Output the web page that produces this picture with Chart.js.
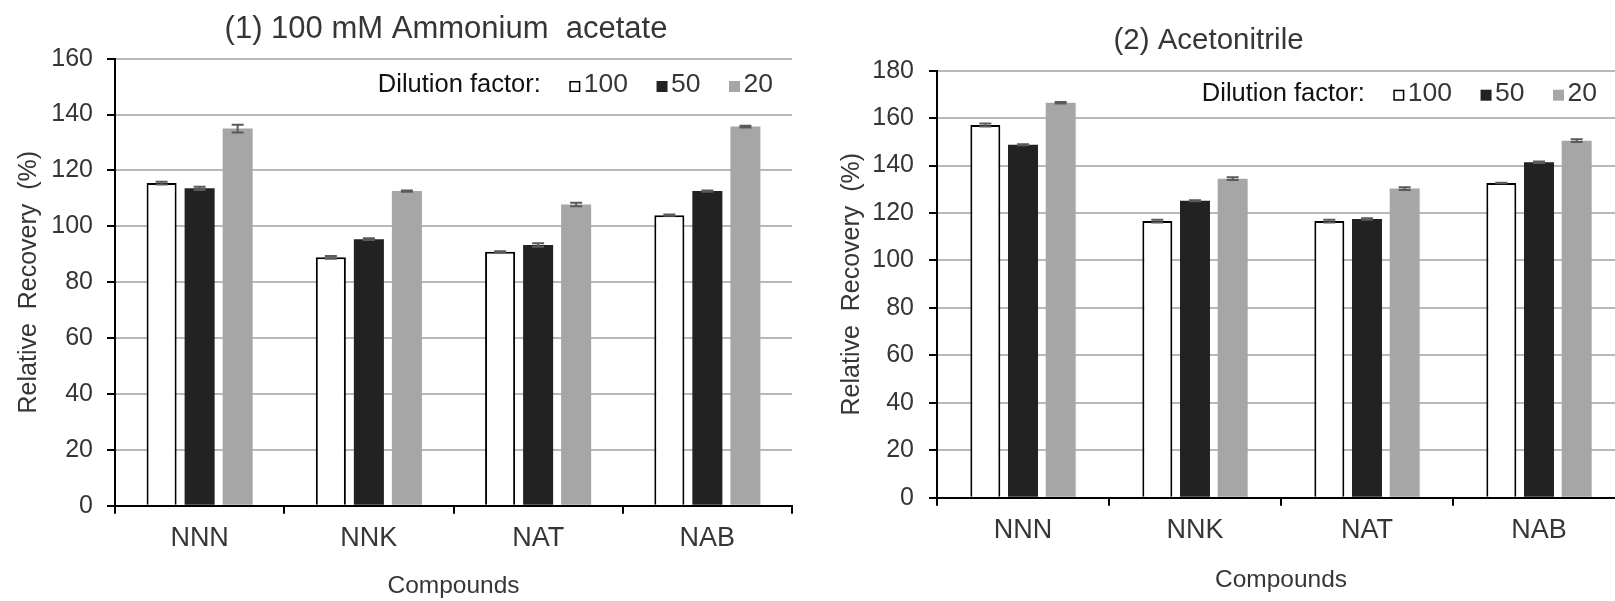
<!DOCTYPE html>
<html>
<head>
<meta charset="utf-8">
<script src="https://cdn.jsdelivr.net/npm/chart.js@4/dist/chart.umd.min.js"></script>
<style>
  html, body { margin: 0; padding: 0; background: #fff; overflow: hidden; width: 1615px; height: 601px; }
  #left { position: absolute; left: 0; top: 0; }
  #right { position: absolute; left: 792px; top: 0; }
</style>
</head>
<body>
<canvas id="left" width="892" height="601"></canvas>
<canvas id="right" width="833" height="601"></canvas>
<script>
// === Data ===
const compounds = ['NNN', 'NNK', 'NAT', 'NAB'];
const dilutionFactors = ['100', '50', '20'];

// (1) 100 mM Ammonium acetate
const ammonium100 = [115.5, 88.9, 90.9, 104.0];
const ammonium50 = [113.6, 95.4, 93.3, 112.6];
const ammonium20 = [135.0, 112.6, 107.8, 135.7];
const ammoniumErr100 = [0.5, 0.5, 0.2, 0.2];
const ammoniumErr50 = [0.6, 0.3, 0.6, 0.2];
const ammoniumErr20 = [1.4, 0.2, 0.6, 0.3];

// (2) Acetonitrile
const acn100 = [157.1, 116.6, 116.6, 132.7];
const acn50 = [148.8, 125.2, 117.5, 141.4];
const acn20 = [166.5, 134.5, 130.3, 150.5];
const acnErr100 = [0.6, 0.6, 0.6, 0.1];
const acnErr50 = [0.2, 0.2, 0.3, 0.3];
const acnErr20 = [0.3, 0.6, 0.6, 0.6];

const FONT = "'Liberation Sans', Arial, sans-serif";
const TEXT = '#363636';
Chart.defaults.font.family = FONT;
Chart.defaults.color = TEXT;

// === Plugins ===
const errorBars = {
  id: 'errorBars',
  afterDatasetsDraw(chart, args, opts) {
    const ctx = chart.ctx;
    const y = chart.scales.y;
    ctx.save();
    ctx.strokeStyle = opts.color;
    ctx.lineWidth = opts.width;
    chart.data.datasets.forEach((ds, i) => {
      chart.getDatasetMeta(i).data.forEach((bar, j) => {
        const top = y.getPixelForValue(ds.data[j] + ds.errors[j]);
        const bot = y.getPixelForValue(ds.data[j] - ds.errors[j]);
        ctx.beginPath();
        ctx.moveTo(bar.x, top); ctx.lineTo(bar.x, bot);
        ctx.moveTo(bar.x - opts.cap, top); ctx.lineTo(bar.x + opts.cap, top);
        ctx.moveTo(bar.x - opts.cap, bot); ctx.lineTo(bar.x + opts.cap, bot);
        ctx.stroke();
      });
    });
    ctx.restore();
  }
};

// "Dilution factor:  □100  ■50  ■20" inside the plot
const dilutionLegend = {
  id: 'dilutionLegend',
  afterDraw(chart, args, opts) {
    const ctx = chart.ctx;
    const area = chart.chartArea;
    const base = area.top + opts.baseline;
    const items = chart.data.datasets;
    ctx.save();
    ctx.textBaseline = 'alphabetic';
    ctx.font = opts.titleFont;
    const titleW = ctx.measureText(opts.title).width;
    ctx.font = opts.font;
    let total = titleW;
    items.forEach(ds => { total += opts.gap + opts.box + opts.boxGap + ctx.measureText(ds.label).width; });
    let x = area.right - opts.right - total;
    ctx.font = opts.titleFont;
    ctx.fillStyle = '#111';
    ctx.fillText(opts.title, x, base);
    x += titleW;
    ctx.font = opts.font;
    items.forEach(ds => {
      x += opts.gap;
      ctx.fillStyle = ds.backgroundColor;
      ctx.fillRect(x, base - opts.box, opts.box, opts.box);
      if (ds.borderWidth) {
        ctx.strokeStyle = ds.borderColor;
        ctx.lineWidth = 1.5;
        ctx.strokeRect(x + 0.75, base - opts.box + 0.75, opts.box - 1.5, opts.box - 1.5);
      }
      x += opts.box + opts.boxGap;
      ctx.fillStyle = TEXT;
      ctx.fillText(ds.label, x, base);
      x += ctx.measureText(ds.label).width;
    });
    ctx.restore();
  }
};

// === Chart builder ===
function makeChart(id, values, errors, cfg) {
  const styles = [
    { backgroundColor: '#ffffff', borderColor: '#000000', borderWidth: 2 },
    { backgroundColor: '#222222', borderColor: '#222222', borderWidth: 0 },
    { backgroundColor: '#a6a6a6', borderColor: '#a6a6a6', borderWidth: 0 }
  ];
  const datasets = dilutionFactors.map((label, i) => Object.assign({
    label,
    data: values[i],
    errors: errors[i],
    categoryPercentage: cfg.catPct,
    barPercentage: cfg.barPct
  }, styles[i]));

  return new Chart(document.getElementById(id), {
    type: 'bar',
    data: { labels: compounds, datasets },
    plugins: [errorBars, dilutionLegend],
    options: {
      responsive: false,
      animation: false,
      devicePixelRatio: 1,
      layout: { padding: { left: 0, right: cfg.padRight, top: 0, bottom: 0 } },
      plugins: {
        legend: { display: false },
        tooltip: { enabled: false },
        title: {
          display: true,
          text: cfg.title,
          color: TEXT,
          font: { size: cfg.titleSize, weight: 'normal', lineHeight: 1.2 },
          padding: { top: cfg.titleTop, bottom: cfg.titleBottom }
        },
        errorBars: { color: '#5a5a5a', width: 2, cap: 6 },
        dilutionLegend: {
          title: 'Dilution factor:',
          titleFont: '25.5px ' + FONT,
          font: '26.5px ' + FONT,
          baseline: cfg.legendBaseline,
          right: cfg.legendRight,
          gap: 28.5, box: 11, boxGap: 3.5
        }
      },
      scales: {
        x: {
          offset: true,
          grid: { display: true, offset: true, drawOnChartArea: false, drawTicks: true, tickLength: 8, tickColor: '#000', tickWidth: 2, lineWidth: 2 },
          border: { display: true, color: '#000', width: 2 },
          ticks: { color: TEXT, font: { size: 27 }, padding: cfg.xTickPad },
          title: { display: true, text: 'Compounds', color: TEXT, font: { size: 24.5, lineHeight: 1.2 }, padding: { top: 0, bottom: cfg.xTitleBottom } },
          afterFit(s) { s.height = cfg.xHeight; }
        },
        y: {
          min: 0,
          max: cfg.yMax,
          grid: { color: '#b8b8b8', lineWidth: 2, tickLength: 8, tickColor: '#000', tickWidth: 2 },
          border: { display: true, color: '#000', width: 2 },
          ticks: { stepSize: 20, color: TEXT, font: { size: 25 }, padding: cfg.yTickPad },
          title: { display: true, text: 'Relative  Recovery  (%)', color: TEXT, font: { size: 25, lineHeight: 1.2 }, padding: { top: cfg.yTitleTop, bottom: 0 } },
          afterFit(s) { s.width = cfg.yWidth; }
        },
        // empty right gutter so the title centres where the original puts it
        gutter: {
          type: 'linear',
          position: 'right',
          display: true,
          grid: { display: false },
          border: { display: false },
          ticks: { display: false },
          afterFit(s) { s.width = cfg.gutter; }
        }
      }
    }
  });
}

// === Init ===
makeChart('left',
  [ammonium100, ammonium50, ammonium20],
  [ammoniumErr100, ammoniumErr50, ammoniumErr20],
  {
    title: '(1) 100 mM Ammonium  acetate', titleSize: 31, titleTop: 10.4, titleBottom: 11.1,
    yMax: 160, yWidth: 115, yTickPad: 14, yTitleTop: 14.5,
    xHeight: 95.3, xTickPad: 8.2, xTitleBottom: 0.3,
    padRight: 0, gutter: 100, catPct: 0.674, barPct: 0.79,
    legendBaseline: 33.3, legendRight: 19
  });

makeChart('right',
  [acn100, acn50, acn20],
  [acnErr100, acnErr50, acnErr20],
  {
    title: '(2) Acetonitrile', titleSize: 29.5, titleTop: 22.8, titleBottom: 12.5,
    yMax: 180, yWidth: 145, yTickPad: 15, yTitleTop: 45,
    xHeight: 103.3, xTickPad: 8.2, xTitleBottom: 6.3,
    padRight: 0, gutter: 0, catPct: 0.657, barPct: 0.796,
    legendBaseline: 30, legendRight: 28
  });
</script>
</body>
</html>
